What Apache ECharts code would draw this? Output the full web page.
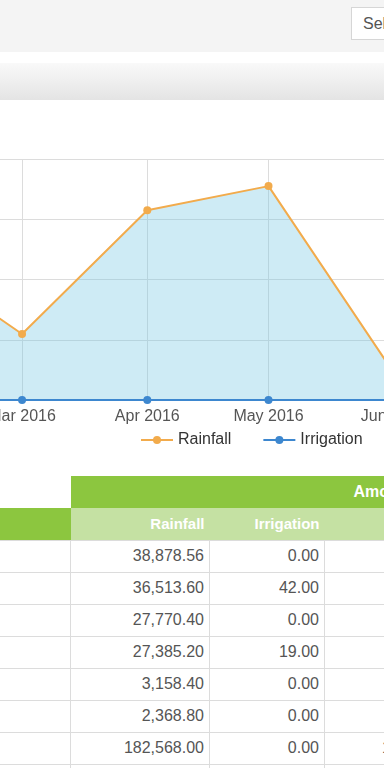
<!DOCTYPE html>
<html>
<head>
<meta charset="utf-8">
<script src="https://cdn.jsdelivr.net/npm/echarts@6/dist/echarts.min.js"></script>
<style>
  html, body { margin:0; padding:0; width:384px; height:768px; overflow:hidden; background:#fff;
    font-family:"Liberation Sans", Arial, sans-serif; }
  #topbar { position:absolute; left:0; top:0; width:384px; height:52px; background:#f4f4f4; }
  #sel { position:absolute; left:351px; top:7px; width:90px; height:31px; background:#fff;
    border:1px solid #d6d6d6; box-sizing:content-box; color:#555; font-size:16px; line-height:31px;
    padding-left:11px; white-space:nowrap; }
  #band { position:absolute; left:0; top:63px; width:384px; height:37px;
    background:linear-gradient(#f9f9f9, #e4e4e4); }
  #chart { position:absolute; left:-300px; top:110px; width:900px; height:350px; }
  #tbl { position:absolute; left:-130px; top:476px; width:597px; border-collapse:collapse; table-layout:fixed;
    font-size:16px; color:#555; }
  #tbl td, #tbl th { height:32px; padding:0 5px 0 0; box-sizing:border-box; white-space:nowrap; overflow:hidden; }
  #tbl td { border:1px solid #dcdcdc; text-align:right; }
  #tbl th { color:#fff; font-weight:bold; font-size:15px; }
  #tbl .g1 { background:#8cc63f; }
  #tbl .g2 { background:#c5e1a3; text-align:right; }
  #tbl .blank { background:#fff; border:none; }
  #tbl .grp { font-size:16px; text-align:left; padding-left:283px; }
</style>
</head>
<body>
<div id="topbar"><div id="sel">Select...</div></div>
<div id="band"></div>
<div id="chart"></div>
<table id="tbl"></table>
<script>
// ---- chart data ----
const months = ['2016-02-01', '2016-03-01', '2016-04-01', '2016-05-01', '2016-06-01'];
const rainfall = [24400, 10950, 31500, 35500, 4500];
const irrigation = [0, 0, 0, 0, 0];
const seriesNames = ['Rainfall', 'Irrigation'];

// ---- table data ----
const groupHeader = 'Amount';
const columnHeaders = ['Rainfall', 'Irrigation', 'Total'];
const tblRainfall = [38878.56, 36513.60, 27770.40, 27385.20, 3158.40, 2368.80, 182568.00];
const tblIrrigation = [0.00, 42.00, 0.00, 19.00, 0.00, 0.00, 0.00];
const tblTotal = [38878.56, 36555.60, 27770.40, 27404.20, 3158.40, 2368.80, 182568.00];

const chart = echarts.init(document.getElementById('chart'), null, { renderer: 'canvas' });
const font = '"Liberation Sans", Arial, sans-serif';
chart.setOption({
  animation: false,
  textStyle: { fontFamily: font },
  grid: { left: 79.6, right: 85, top: 49, bottom: 60, containLabel: false },
  legend: {
    data: seriesNames,
    left: 435, top: 317,
    itemWidth: 32, itemHeight: 10, itemGap: 31,
    textStyle: { fontSize: 16, color: '#333', fontFamily: font }
  },
  xAxis: {
    type: 'time',
    min: '2016-01-01', max: '2016-07-01',
    minInterval: 28 * 86400000, maxInterval: 31 * 86400000,
    axisLine: { show: true, lineStyle: { color: '#ccd6eb' } },
    axisTick: { show: false },
    axisLabel: { formatter: '{MMM} {yyyy}', color: '#555', fontSize: 16, margin: 9, fontFamily: font },
    splitLine: { show: true, lineStyle: { color: '#dcdcdc', width: 1 } }
  },
  yAxis: {
    type: 'value', min: 0, max: 40000, interval: 10000,
    axisLabel: { color: '#555', fontSize: 14 },
    splitLine: { show: true, lineStyle: { color: '#dcdcdc', width: 1 } }
  },
  series: [
    {
      name: seriesNames[0], type: 'line',
      data: months.map((m, i) => [m, rainfall[i]]),
      symbol: 'circle', symbolSize: 8, showSymbol: true,
      itemStyle: { color: '#f2ab4c' },
      lineStyle: { color: '#f2ab4c', width: 2 },
      areaStyle: { color: 'rgba(110,195,225,0.34)', opacity: 1 },
      z: 2
    },
    {
      name: seriesNames[1], type: 'line',
      data: months.map((m, i) => [m, irrigation[i]]),
      symbol: 'circle', symbolSize: 8, showSymbol: true,
      itemStyle: { color: '#3d87cf' },
      lineStyle: { color: '#3d87cf', width: 2 },
      z: 3
    }
  ]
});

// ---- table ----
const fmt = v => v.toLocaleString('en-US', { minimumFractionDigits: 2, maximumFractionDigits: 2 });
const tbl = document.getElementById('tbl');
const widths = [200, 139, 115, 143];
let html = '<colgroup>' + widths.map(w => '<col style="width:' + w + 'px">').join('') + '</colgroup>';
html += '<tr><th class="blank"></th><th class="g1 grp" colspan="3">' + groupHeader + '</th></tr>';
html += '<tr><th class="g1"></th>' + columnHeaders.map(h => '<th class="g2">' + h + '</th>').join('') + '</tr>';
for (let i = 0; i < tblRainfall.length; i++) {
  html += '<tr><td></td><td>' + fmt(tblRainfall[i]) + '</td><td>' + fmt(tblIrrigation[i]) + '</td><td>' + fmt(tblTotal[i]) + '</td></tr>';
}
html += '<tr><td></td><td></td><td></td><td></td></tr>';
tbl.innerHTML = html;
</script>
</body>
</html>
